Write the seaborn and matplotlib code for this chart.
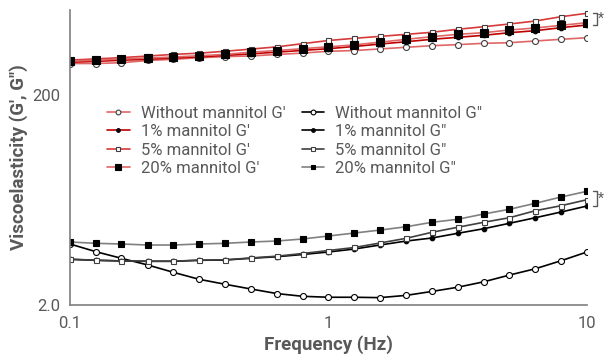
import matplotlib
matplotlib.use('Agg')
import matplotlib.pyplot as plt
from matplotlib.ticker import FixedLocator, NullFormatter
import seaborn as sns

# frequencias (Hz), 10 pontos por decada
freq = [0.1, 0.126, 0.158, 0.2, 0.251, 0.316, 0.398, 0.501, 0.631, 0.794,
        1.0, 1.26, 1.58, 2.0, 2.51, 3.16, 3.98, 5.01, 6.31, 7.94, 10.0]

# G' (storage modulus)
g1_without = [394, 394, 401, 421, 432, 447, 458, 465, 480, 495, 515,
              523, 542, 562, 582, 595, 613, 621, 645, 669, 693]
g1_1pct = [405, 413, 423, 433, 444, 456, 470, 487, 505, 525, 545,
           572, 603, 635, 669, 699, 730, 773, 808, 863, 915]
g1_5pct = [424, 436, 448, 464, 481, 494, 515, 540, 567, 608, 652,
           684, 713, 746, 780, 833, 881, 935, 998, 1097, 1182]
g1_20pct = [415, 424, 436, 445, 454, 467, 481, 505, 523, 545, 568,
            592, 628, 669, 708, 746, 773, 820, 857, 909, 962]

# G'' (loss modulus)
g2_without = [7.60, 6.42, 5.56, 4.80, 4.09, 3.51, 3.15, 2.84, 2.57, 2.42, 2.37,
              2.37, 2.35, 2.47, 2.69, 2.95, 3.32, 3.85, 4.42, 5.27, 6.38]
g2_1pct = [5.43, 5.32, 5.24, 5.20, 5.20, 5.32, 5.35, 5.56, 5.75, 6.04, 6.38,
           6.81, 7.43, 8.11, 8.66, 9.60, 10.61, 11.95, 13.50, 15.30, 17.44]
g2_5pct = [5.45, 5.33, 5.25, 5.22, 5.22, 5.33, 5.38, 5.60, 5.82, 6.17, 6.59,
           7.04, 7.76, 8.61, 9.81, 10.95, 12.21, 13.50, 15.74, 17.56, 20.02]
g2_20pct = [7.94, 7.71, 7.60, 7.43, 7.43, 7.60, 7.71, 7.94, 8.11, 8.48, 9.05,
            9.66, 10.3, 11.09, 12.21, 13.04, 14.64, 16.23, 18.51, 21.24, 24.06]

labels_g1 = ["Without mannitol G'", "1% mannitol G'", "5% mannitol G'", "20% mannitol G'"]
labels_g2 = ['Without mannitol G"', '1% mannitol G"', '5% mannitol G"', '20% mannitol G"']

sns.set_style('white')
plt.rcParams['font.family'] = ['Roboto', 'DejaVu Sans']

grey_txt = '#595959'
axis_col = '#7f7f7f'

fig = plt.figure(figsize=(6.06, 3.55), dpi=100)
ax = fig.add_axes([0.1155, 0.1408, 0.8531, 0.8310])

# estilos: (cor da linha, marcador, face, borda, tamanho)
styles_g1 = [('#e06666', 'o', 'white', '#404040', 4.3),
             ('#c00000', 'o', 'black', 'black', 3.3),
             ('#d63a3a', 's', 'white', '#404040', 3.6),
             ('#e06666', 's', 'black', 'black', 5.5)]
styles_g2 = [('black', 'o', 'white', 'black', 4.3),
             ('black', 'o', 'black', 'black', 3.3),
             ('#404040', 's', 'white', '#404040', 3.6),
             ('#808080', 's', 'black', 'black', 4.3)]

for vals, lab, st in zip([g1_without, g1_1pct, g1_5pct, g1_20pct], labels_g1, styles_g1):
    sns.lineplot(x=freq, y=vals, ax=ax, color=st[0], marker=st[1], markerfacecolor=st[2],
                 markeredgecolor=st[3], markersize=st[4], markeredgewidth=0.8,
                 linewidth=1.2, label=lab)

for vals, lab, st in zip([g2_without, g2_1pct, g2_5pct, g2_20pct], labels_g2, styles_g2):
    sns.lineplot(x=freq, y=vals, ax=ax, color=st[0], marker=st[1], markerfacecolor=st[2],
                 markeredgecolor=st[3], markersize=st[4], markeredgewidth=0.8,
                 linewidth=1.2, label=lab)

ax.set_xscale('log')
ax.set_yscale('log')
ax.set_xlim(0.1, 10)
ax.set_ylim(2, 1270)

ax.xaxis.set_major_locator(FixedLocator([0.1, 1, 10]))
ax.set_xticklabels(['0.1', '1', '10'])
ax.xaxis.set_minor_locator(FixedLocator([m * d for d in (0.1, 1) for m in range(2, 10)]))
ax.xaxis.set_minor_formatter(NullFormatter())

ax.yaxis.set_major_locator(FixedLocator([2, 200]))
ax.set_yticklabels(['2.0', '200'])
ax.yaxis.set_minor_locator(FixedLocator([18, 31.5, 49, 71, 98, 125, 162, 800]))
ax.yaxis.set_minor_formatter(NullFormatter())

for s in ['top', 'right']:
    ax.spines[s].set_visible(False)
for s in ['left', 'bottom']:
    ax.spines[s].set_color(axis_col)
    ax.spines[s].set_linewidth(1.2)

ax.tick_params(axis='both', which='both', direction='out', color=axis_col,
               width=1.0, labelcolor=grey_txt, labelsize=12)
ax.tick_params(axis='x', which='both', length=5, pad=3)
ax.tick_params(axis='y', which='both', length=4, pad=3)

ax.set_xlabel('Frequency (Hz)', fontsize=13.5, fontweight='bold', color=grey_txt, labelpad=3)
ax.set_ylabel('Viscoelasticity (G\', G")', fontsize=13.5, fontweight='bold', color=grey_txt, labelpad=3)

leg = ax.legend(ncol=2, frameon=False, loc='upper left', bbox_to_anchor=(0.072, 0.675),
                borderaxespad=0, borderpad=0, fontsize=12, labelcolor=grey_txt, markerscale=0.8,
                handlelength=1.35, handletextpad=0.65, columnspacing=1.0, labelspacing=0.2)

# colchetes de significancia (*)
trans = ax.get_yaxis_transform()
for top, bot in [(g1_5pct[-1], g1_1pct[-1]), (g2_20pct[-1], g2_1pct[-1])]:
    ax.plot([1.0116, 1.019, 1.019, 1.0116], [top, top, bot, bot], transform=trans,
            color='#595959', linewidth=1.0, clip_on=False)
    mid = (top * bot) ** 0.5
    ax.text(1.021, mid, '*', transform=trans, fontsize=10, color='#595959',
            ha='left', va='center', clip_on=False)

fig.savefig('out.png', dpi=100)
